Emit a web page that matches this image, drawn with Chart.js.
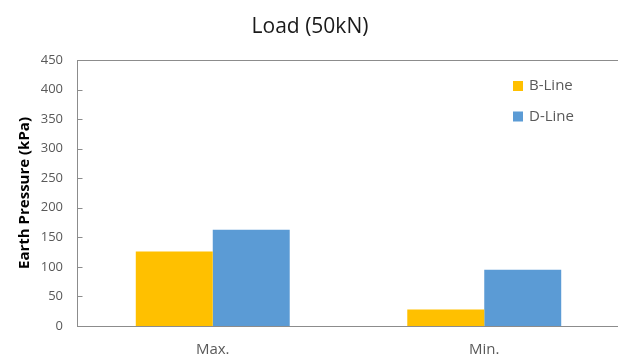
<!DOCTYPE html>
<html>
<head>
<meta charset="utf-8">
<script src="https://cdn.jsdelivr.net/npm/chart.js@4/dist/chart.umd.min.js"></script>
<style>
body { margin: 0; overflow: hidden; background: #fff; }
#chart1 { display: block; }
</style>
</head>
<body>
<canvas id="chart1" width="640" height="355"></canvas>
<script>
// data
const categories = ['Max.', 'Min.'];
const bLine = [126, 28];
const dLine = [163, 95];
const seriesNames = ['B-Line', 'D-Line'];
const seriesColors = ['#FFC000', '#5B9BD5'];
const yTicks = [0, 50, 100, 150, 200, 250, 300, 350, 400, 450];

const grey = '#595959';
const lineGrey = '#8c8c8c';

// plot frame, inner ticks and the legend inside the plot
const framePlugin = {
    id: 'frame',
    afterDatasetsDraw(chart) {
        const ctx = chart.ctx;
        const a = chart.chartArea;
        const y = chart.scales.y;
        ctx.save();
        ctx.strokeStyle = lineGrey;
        ctx.lineWidth = 1;
        const l = Math.round(a.left) + 0.5, t = Math.round(a.top) + 0.5;
        const r = Math.round(a.right) + 0.5, b = Math.round(a.bottom) + 0.5;
        ctx.strokeRect(l, t, r - l, b - t);
        ctx.beginPath();
        y.ticks.forEach(function(tk) {
            const py = Math.round(y.getPixelForValue(tk.value)) + 0.5;
            ctx.moveTo(l, py);
            ctx.lineTo(l + 5, py);
        });
        ctx.stroke();

        // legend
        ctx.font = '15px "Open Sans"';
        ctx.textBaseline = 'middle';
        ctx.textAlign = 'left';
        chart.data.datasets.forEach(function(ds, i) {
            const cy = 86 + i * 30.5;
            ctx.fillStyle = ds.backgroundColor;
            ctx.fillRect(513, cy - 5, 10, 10);
            ctx.fillStyle = grey;
            ctx.fillText(ds.label, 529, cy);
        });
        ctx.restore();
    }
};

const data = {
    labels: categories,
    datasets: [{
        label: seriesNames[0],
        data: bLine,
        backgroundColor: seriesColors[0],
        borderWidth: 0,
        barPercentage: 1,
        categoryPercentage: 0.567
    }, {
        label: seriesNames[1],
        data: dLine,
        backgroundColor: seriesColors[1],
        borderWidth: 0,
        barPercentage: 1,
        categoryPercentage: 0.567
    }]
};

const config = {
    type: 'bar',
    data: data,
    options: {
        responsive: false,
        animation: false,
        layout: { padding: { left: 0, right: 20, top: 0, bottom: 0 } },
        plugins: {
            legend: { display: false },
            tooltip: { enabled: false },
            title: {
                display: true,
                text: 'Load (50kN)',
                color: '#1a1a1a',
                font: { family: 'Open Sans', size: 21, weight: 'normal', lineHeight: 1.2 },
                padding: { top: 14, bottom: 20.8 }
            }
        },
        scales: {
            x: {
                grid: { display: false, drawTicks: false },
                border: { display: false },
                ticks: {
                    color: grey,
                    font: { family: 'Open Sans', size: 15 },
                    padding: 15,
                    maxRotation: 0
                },
                afterFit: function(s) { s.height = 29; }
            },
            y: {
                min: yTicks[0],
                max: yTicks[yTicks.length - 1],
                grid: { display: false, drawTicks: false },
                border: { display: false },
                ticks: {
                    stepSize: yTicks[1] - yTicks[0],
                    color: grey,
                    font: { family: 'Open Sans', size: 13 },
                    padding: 14
                },
                title: {
                    display: true,
                    text: 'Earth Pressure (kPa)',
                    color: '#000',
                    font: { family: 'Open Sans', size: 15, weight: 'bold', lineHeight: 1.2 },
                    padding: { top: 16, bottom: 0 }
                },
                afterFit: function(s) { s.width = 77; }
            }
        }
    },
    plugins: [framePlugin]
};

const myChart = new Chart(document.getElementById('chart1'), config);
</script>
</body>
</html>
